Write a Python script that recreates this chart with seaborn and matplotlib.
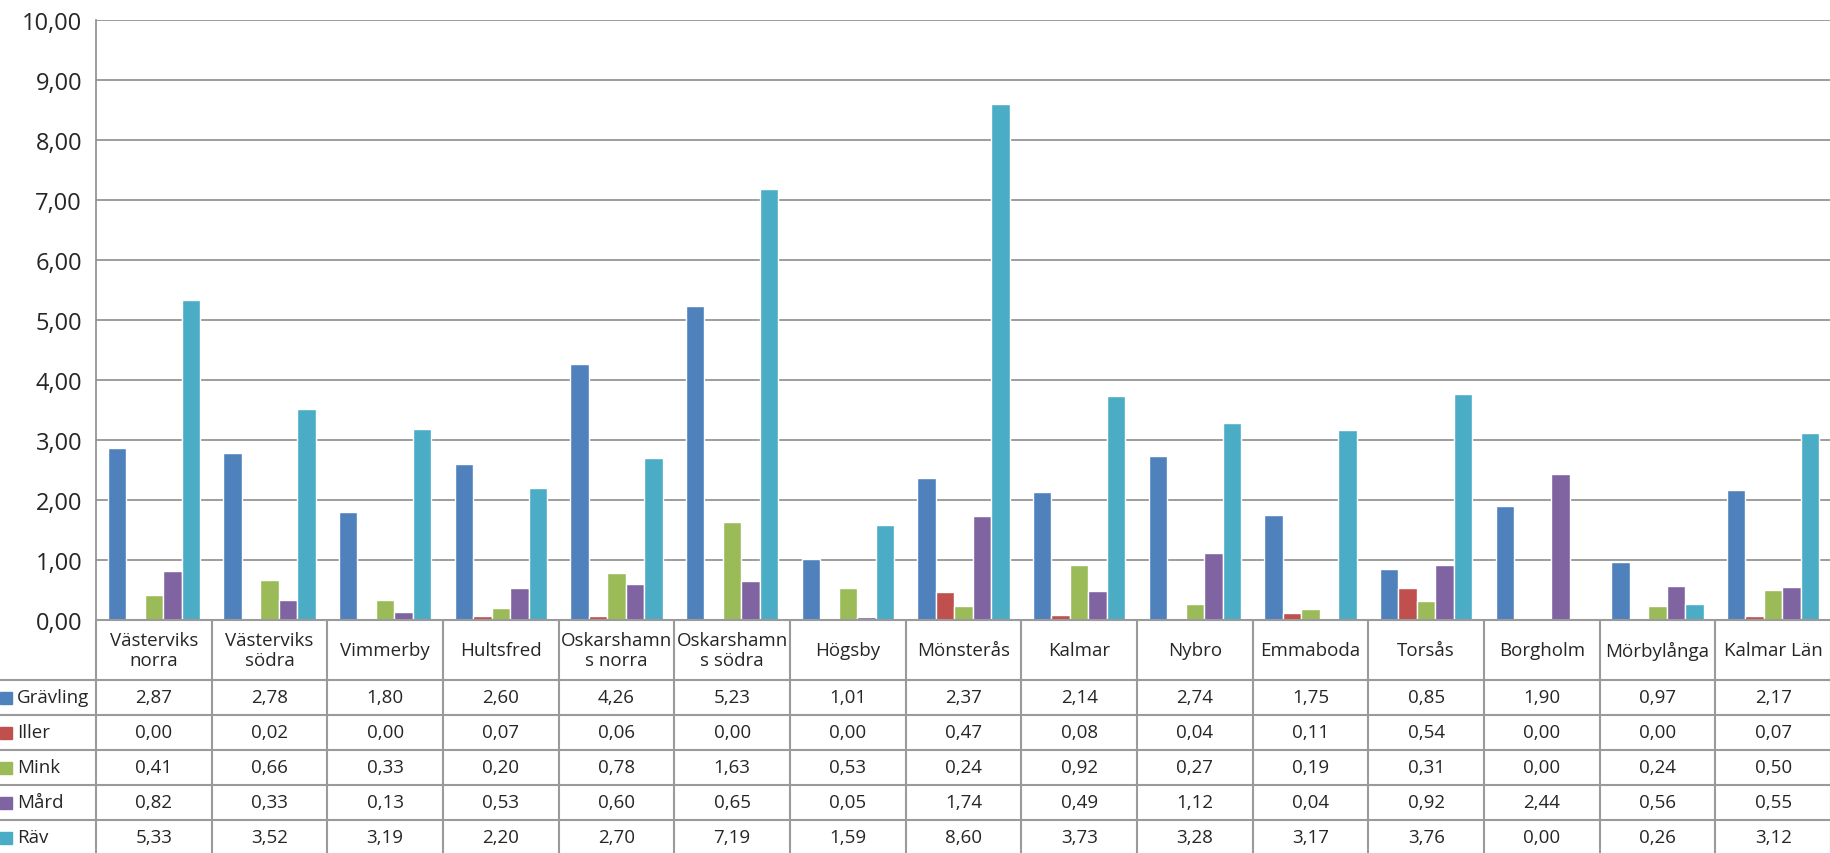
import pandas as pd
import seaborn as sns
import matplotlib.pyplot as plt
from matplotlib.ticker import FuncFormatter

kommuner = ['Västerviks\nnorra', 'Västerviks\nsödra', 'Vimmerby', 'Hultsfred',
            'Oskarshamn\ns norra', 'Oskarshamn\ns södra', 'Högsby', 'Mönsterås',
            'Kalmar', 'Nybro', 'Emmaboda', 'Torsås', 'Borgholm', 'Mörbylånga', 'Kalmar Län']
arter = ['Grävling', 'Iller', 'Mink', 'Mård', 'Räv']
gravling = [2.87, 2.78, 1.80, 2.60, 4.26, 5.23, 1.01, 2.37, 2.14, 2.74, 1.75, 0.85, 1.90, 0.97, 2.17]
iller = [0.00, 0.02, 0.00, 0.07, 0.06, 0.00, 0.00, 0.47, 0.08, 0.04, 0.11, 0.54, 0.00, 0.00, 0.07]
mink = [0.41, 0.66, 0.33, 0.20, 0.78, 1.63, 0.53, 0.24, 0.92, 0.27, 0.19, 0.31, 0.00, 0.24, 0.50]
mard = [0.82, 0.33, 0.13, 0.53, 0.60, 0.65, 0.05, 1.74, 0.49, 1.12, 0.04, 0.92, 2.44, 0.56, 0.55]
rav = [5.33, 3.52, 3.19, 2.20, 2.70, 7.19, 1.59, 8.60, 3.73, 3.28, 3.17, 3.76, 0.00, 0.26, 3.12]
farger = ['#4F81BD', '#C0504D', '#9BBB59', '#8064A2', '#4BACC6']

serier = [gravling, iller, mink, mard, rav]
df = pd.DataFrame({'Kommun': kommuner * 5,
                   'Art': [a for a in arter for _ in kommuner],
                   'Värde': [v for s in serier for v in s]})

sns.set_style('white')
plt.rcParams['font.family'] = ['Open Sans', 'DejaVu Sans']

W, H = 1831, 854
fig = plt.figure(figsize=(W / 100, H / 100), dpi=100)
left, top, bottom = 96, 21, 621
ax = fig.add_axes([left / W, (H - bottom) / H, (W - left) / W, (bottom - top) / H])

sns.barplot(data=df, x='Kommun', y='Värde', hue='Art', palette=farger,
            width=0.8, saturation=1, ax=ax, legend=False, zorder=3)
ax.set_xlim(-0.5, 14.5)
ax.set_ylim(0, 10)
ax.set_yticks(range(0, 11))
ax.yaxis.set_major_formatter(FuncFormatter(lambda v, p: f'{v:.2f}'.replace('.', ',')))
ax.tick_params(axis='y', labelsize=17, length=0, pad=10)
ax.set_xticks([])
ax.set_xlabel('')
ax.set_ylabel('')
ax.grid(axis='y', color='#8c8c8c', linewidth=1.2, zorder=0)
for s in ['top', 'right', 'bottom']:
    ax.spines[s].set_visible(False)
ax.spines['left'].set_color('#8c8c8c')
ax.spines['left'].set_linewidth(1.2)

# datatabell under diagrammet (figurkoordinater i pixlar)
colw = (W - left) / 15
lc = '#9a9a9a'
header_h = 60
row_h = 35
fs = 13.5
def fy(y):
    return (H - y) / H
def fx(x):
    return x / W

fig.add_artist(plt.Line2D([fx(left), 1], [fy(bottom), fy(bottom)], color=lc, lw=1.5))
for i in range(16):
    x = left + i * colw
    fig.add_artist(plt.Line2D([fx(x), fx(x)], [fy(bottom), 0], color=lc, lw=1.5))
for j in range(5):
    y = bottom + header_h + j * row_h
    fig.add_artist(plt.Line2D([0, 1], [fy(y), fy(y)], color=lc, lw=1.5))

for i, k in enumerate(kommuner):
    fig.text(fx(left + (i + 0.5) * colw), fy(bottom + header_h / 2), k,
             ha='center', va='center', fontsize=fs, linespacing=1.2)
for j, (art, s, c) in enumerate(zip(arter, serier, farger)):
    yc = bottom + header_h + (j + 0.5) * row_h
    fig.patches.append(plt.Rectangle((0, fy(yc + 6)), fx(12), 12 / H, color=c,
                                     transform=fig.transFigure, figure=fig))
    fig.text(fx(17), fy(yc), art, ha='left', va='center', fontsize=fs)
    for i, v in enumerate(s):
        fig.text(fx(left + (i + 0.5) * colw), fy(yc), f'{v:.2f}'.replace('.', ','),
                 ha='center', va='center', fontsize=fs)

fig.savefig('out.png', dpi=100)
